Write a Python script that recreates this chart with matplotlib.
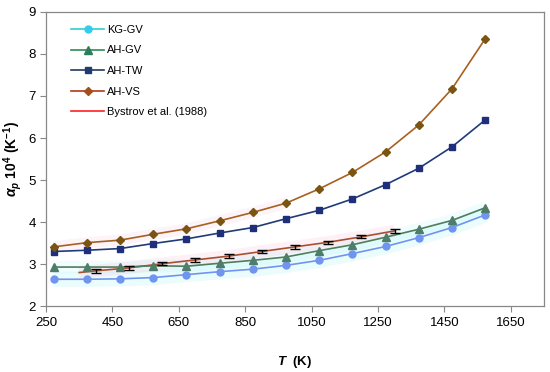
import matplotlib
matplotlib.use("Agg")
import matplotlib.pyplot as plt
from matplotlib.lines import Line2D

plt.rcParams['font.family'] = ['Liberation Sans', 'DejaVu Sans']
plt.rcParams['mathtext.fontset'] = 'custom'
plt.rcParams['mathtext.it'] = 'Liberation Sans:bold:italic'
plt.rcParams['mathtext.rm'] = 'Liberation Sans:bold'
plt.rcParams['mathtext.bf'] = 'Liberation Sans:bold'

T = [273, 373, 473, 573, 673, 773, 873, 973, 1073, 1173, 1273, 1373, 1473, 1573]
kg_gv = [2.64, 2.64, 2.65, 2.68, 2.75, 2.82, 2.88, 2.97, 3.09, 3.25, 3.42, 3.63, 3.87, 4.17]
ah_gv = [2.93, 2.93, 2.93, 2.96, 2.95, 3.02, 3.09, 3.17, 3.32, 3.46, 3.64, 3.83, 4.04, 4.34]
ah_tw = [3.30, 3.33, 3.37, 3.49, 3.60, 3.74, 3.87, 4.08, 4.28, 4.55, 4.89, 5.28, 5.79, 6.43]
ah_vs = [3.41, 3.51, 3.57, 3.71, 3.84, 4.03, 4.23, 4.45, 4.79, 5.18, 5.67, 6.31, 7.17, 8.36]

T_by = [350, 400, 500, 600, 700, 800, 900, 1000, 1100, 1200, 1300]
by = [2.80, 2.84, 2.91, 3.01, 3.10, 3.19, 3.30, 3.41, 3.52, 3.65, 3.79]
T_err = [400, 500, 600, 700, 800, 900, 1000, 1100, 1200, 1300]
by_err_val = [2.84, 2.91, 3.01, 3.10, 3.19, 3.30, 3.41, 3.52, 3.65, 3.79]
by_err = [0.04, 0.04, 0.04, 0.04, 0.04, 0.04, 0.04, 0.04, 0.04, 0.04]

xticks = [250, 450, 650, 850, 1050, 1250, 1450, 1650]
yticks = [2, 3, 4, 5, 6, 7, 8, 9]

fig = plt.figure(figsize=(5.5, 3.72), dpi=100)
ax = fig.add_axes([0.0836, 0.177, 0.9054, 0.791])

# soft glow bands
ax.plot(T, kg_gv, color='#9FF0F5', lw=11, alpha=0.2, solid_capstyle='butt', zorder=1)
ax.plot(T, ah_gv, color='#9FF0F5', lw=9, alpha=0.15, solid_capstyle='butt', zorder=1)
ax.plot(T_by, by, color='#F5B8D8', lw=9, alpha=0.2, solid_capstyle='butt', zorder=1)
ax.plot(T[:8], ah_vs[:8], color='#F5B8D8', lw=8, alpha=0.15, solid_capstyle='butt', zorder=1)

ax.plot(T, kg_gv, color='#7095F0', lw=1.2, marker='o', ms=5, mfc='#7095F0', mec='#7095F0', zorder=3)
ax.plot(T, ah_gv, color='#4E7E5C', lw=1.2, marker='^', ms=6, mfc='#4E7D6A', mec='#4E7D6A', zorder=3)
ax.plot(T, ah_tw, color='#1F3C78', lw=1.2, marker='s', ms=5, mfc='#1F2F7A', mec='#1F2F7A', zorder=3)
ax.plot(T, ah_vs, color='#A8601E', lw=1.2, marker='D', ms=4.5, mfc='#7A5410', mec='#7A5410', zorder=3)
ax.plot(T_by, by, color='#A8502E', lw=1.2, zorder=2)
ax.errorbar(T_err, by_err_val, yerr=by_err, fmt='none', ecolor='black', elinewidth=1.0,
            capsize=3.5, capthick=1.0, zorder=4)

ax.set_xlim(250, 1750)
ax.set_ylim(2, 9)
ax.set_xticks(xticks)
ax.set_yticks(yticks)
ax.tick_params(axis='both', labelsize=9.5, direction='out', length=4, color='#888888', width=0.8)
for s in ax.spines.values():
    s.set_color('#888888')
    s.set_linewidth(0.9)

ax.set_xlabel(r'$T$  (K)', fontsize=9.5, fontweight='bold', labelpad=18)
ax.set_ylabel(r'$\alpha_p$ 10$^{4}$ (K$^{-1}$)', fontsize=10, fontweight='bold', labelpad=3)

handles = [
    Line2D([], [], color='#33CCCC', lw=1.2, marker='o', ms=5, mfc='#33CCEE', mec='#33CCEE'),
    Line2D([], [], color='#2E8B57', lw=1.2, marker='^', ms=5.5, mfc='#2E7D5A', mec='#2E7D5A'),
    Line2D([], [], color='#1F3C60', lw=1.2, marker='s', ms=4.5, mfc='#1F3C70', mec='#1F3C70'),
    Line2D([], [], color='#B03A1A', lw=1.2, marker='D', ms=4, mfc='#A0501A', mec='#A0501A'),
    Line2D([], [], color='#FF2020', lw=1.2),
]
labels = ['KG-GV', 'AH-GV', 'AH-TW', 'AH-VS', 'Bystrov et al. (1988)']
ax.legend(handles, labels, loc='upper left', bbox_to_anchor=(0.03, 0.99), frameon=False,
          fontsize=8, handlelength=3.0, handletextpad=0.25, labelspacing=0.95)

fig.savefig('out.png', dpi=100)
